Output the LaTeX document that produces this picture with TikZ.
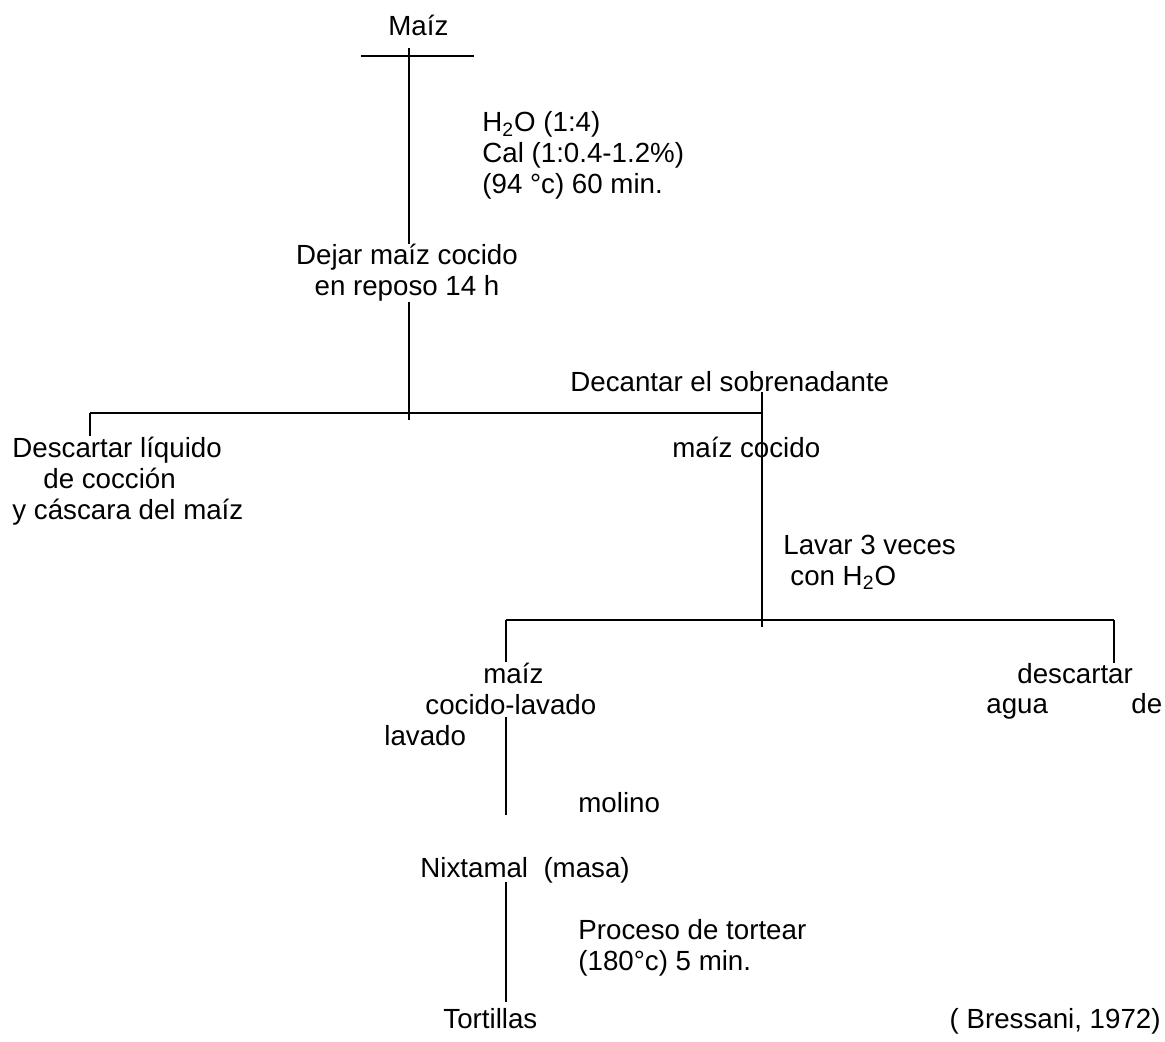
\documentclass[tikz,border=0pt]{standalone}
\usepackage{fontspec}
\setmainfont{Liberation Sans}
\tikzset{
txt/.style={inner sep=0pt,anchor=base west,align=left},
linea/.style={line width=1pt}
}
\begin{document}
\begin{tikzpicture}[x=0.5pt,y=-0.5pt,font=\fontsize{13.85}{15.5}\selectfont]
\useasboundingbox (0,0) rectangle (1165,1042);
\path
(361,56) coordinate (B1)
(474,56) coordinate (B2)
(409,48) coordinate (A)
(409,420) coordinate (A2)
(90,413) coordinate (C1)
(762,413) coordinate (C2)
(762,392) coordinate (D)
(762,627) coordinate (D2)
(506,620) coordinate (E1)
(1114,620) coordinate (E2)
(506,717) coordinate (F1)
(506,815) coordinate (F2)
(506,882) coordinate (G1)
(506,1002) coordinate (G2)
;
% textos
\node[txt] (maiz) at (388,36) {Maíz};
\node[txt] (coccion) at (482,194) {H\textsubscript{2}O (1:4)\\Cal (1:0.4-1.2\%)\\(94 °c) 60 min.};
\node[txt,anchor=base,align=center] (reposo) at (407,296) {Dejar maíz cocido\\en reposo 14 h};
\node[txt] (decantar) at (570,392) {Decantar el sobrenadante};
\node[txt] (liquido) at (12,519) {Descartar líquido\\\hspace*{15.5pt}de cocción\\y cáscara del maíz};
\node[txt] (cocido) at (672,457) {maíz cocido};
\node[txt] (lavar) at (783,585) {Lavar 3 veces\\\hspace*{3.5pt}con H\textsubscript{2}O};
\node[txt] (lavado) at (384,745) {\hspace*{49.5pt}maíz\\\hspace*{20.5pt}cocido-lavado\\lavado};
\node[txt] (agua) at (1017,683) {descartar};
\node[txt] (agua2) at (986,713) {agua};
\node[txt] (agua3) at (1131,713) {de};
\node[txt] (molino) at (578,812) {molino};
\node[txt] (nixtamal) at (420,877) {Nixtamal\ \ (masa)};
\node[txt] (tortear) at (578,970) {Proceso de tortear\\(180°c) 5 min.};
\node[txt] (tortillas) at (443,1028) {Tortillas};
\node[txt,anchor=base east] (fuente) at (1161,1028) {( Bressani, 1972)};
% lineas
\draw[linea] (B1)--(B2) (A)--(A |- reposo.north) (A |- reposo.south)--(A2);
\draw[linea] (C1)--(C2) (C1)--(C1 |- liquido.north) (D)--(D2);
\draw[linea] (E1)--(E2) (E1)--(E1 |- lavado.north) (E2)--(E2 |- agua.north);
\draw[linea] (F1)--(F2) (G1)--(G2);
\end{tikzpicture}
\end{document}
